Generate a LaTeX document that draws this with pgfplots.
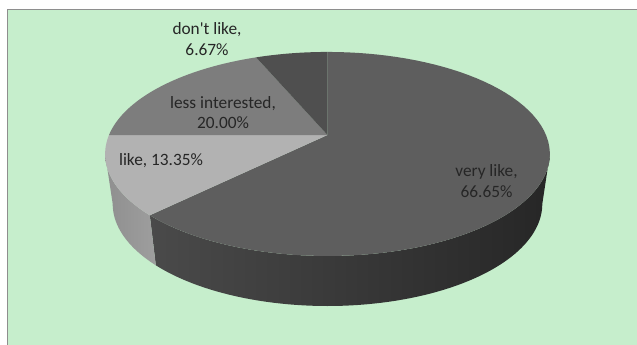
\documentclass[border=0pt]{standalone}
\usepackage{fontspec}
\setmainfont{Carlito}[Ligatures=TeXOff]
\usepackage{pgfplots}
\usepackage{pgfplotstable}
\pgfplotsset{compat=1.18}

\definecolor{panel}{HTML}{C6EECC}
\definecolor{frameline}{HTML}{8E8E8E}
\definecolor{labeltext}{HTML}{262626}

% Survey answers, as labelled on the slices
\pgfplotstableread{
share
66.65
13.35
20.00
6.67
}\shares

% Rim point of the tilted disc: #1 = angle clockwise from the top, #2 = 0 top face, 1 bottom face
\newcommand{\rimpoint}[2]{%
  \pgfmathsetmacro\dn{1+0.186*cos(#1)}%
  \pgfmathsetmacro\px{327.5+(1-0.034*#2)*218.5*sin(#1)/\dn}%
  \pgfmathsetmacro\py{135-98.5*cos(#1)/\dn+50*#2}%
}
% Appends a rim arc from angle #2 to angle #3 on face #4 to the coordinate list #1
\newcommand{\addarc}[4]{%
  \pgfmathsetmacro\stp{(#3-#2)/72}%
  \foreach \k in {0,...,72}{%
    \pgfmathsetmacro\ang{#2+\k*\stp}%
    \rimpoint{\ang}{#4}%
    \xdef#1{#1 (\px,\py)}%
  }%
}
% Top face of a slice
\newcommand{\slicelist}[3]{%
  \xdef#1{(327.5,135)}%
  \addarc{#1}{#2}{#3}{0}%
}
% Outer wall of a slice
\newcommand{\walllist}[3]{%
  \xdef#1{}%
  \addarc{#1}{#2}{#3}{0}%
  \addarc{#1}{#3}{#2}{1}%
}
\newcommand{\filledplot}[2]{%
  \edef\temp{\noexpand\addplot[draw=none,#1] coordinates {#2};}\temp
}

\begin{document}
\begin{tikzpicture}
  % Cumulative slice boundaries in degrees
  \pgfplotstablegetelem{0}{share}\of\shares \let\va\pgfplotsretval
  \pgfplotstablegetelem{1}{share}\of\shares \let\vb\pgfplotsretval
  \pgfplotstablegetelem{2}{share}\of\shares \let\vc\pgfplotsretval
  \pgfplotstablegetelem{3}{share}\of\shares \let\vd\pgfplotsretval
  \pgfmathsetmacro\total{\va+\vb+\vc+\vd}
  \pgfmathsetmacro\bndA{360*(\va/\total)}
  \pgfmathsetmacro\bndB{360*((\va+\vb)/\total)}
  \pgfmathsetmacro\bndC{360*((\va+\vb+\vc)/\total)}
  \slicelist{\topA}{0}{\bndA}
  \slicelist{\topB}{\bndA}{\bndB}
  \slicelist{\topC}{\bndB}{\bndC}
  \slicelist{\topD}{\bndC}{360}
  % Walls run between the two silhouette points of the disc
  \walllist{\wallA}{100.7}{\bndA}
  \walllist{\wallB}{\bndA}{259.3}
  \begin{axis}[
    scale only axis, width=637pt, height=345pt,
    xmin=0, xmax=637, ymin=0, ymax=345, y dir=reverse,
    hide axis, no markers,
  ]
    \addplot[fill=white,draw=none] coordinates {(0,0)(637,0)(637,345)(0,345)};
    \addplot[fill=panel,draw=none] coordinates {(7.5,9.5)(637,9.5)(637,345)(7.5,345)};
    \addplot[frameline,line width=1.4pt] coordinates {(7.5,345)(7.5,9.5)(637,9.5)};
    \filledplot{left color=black!71,middle color=black!80,right color=black!85}{\wallA}
    \filledplot{left color=black!44,right color=black!38}{\wallB}
    \filledplot{fill=black!63}{\topA}
    \filledplot{fill=black!30}{\topB}
    \filledplot{fill=black!51}{\topC}
    \filledplot{fill=black!69}{\topD}
    \node[font=\fontsize{17.3}{20.5}\selectfont,text=labeltext,align=center] at (axis cs:207,39) {don't like,\\6.67\%};
    \node[font=\fontsize{17.3}{20.5}\selectfont,text=labeltext,align=center] at (axis cs:223,112.5) {less interested,\\20.00\%};
    \node[font=\fontsize{17.3}{20.5}\selectfont,text=labeltext] at (axis cs:161,161) {like, 13.35\%};
    \node[font=\fontsize{17.3}{20.5}\selectfont,text=labeltext,align=center] at (axis cs:486.5,181) {very like,\\66.65\%};
  \end{axis}
\end{tikzpicture}
\end{document}
